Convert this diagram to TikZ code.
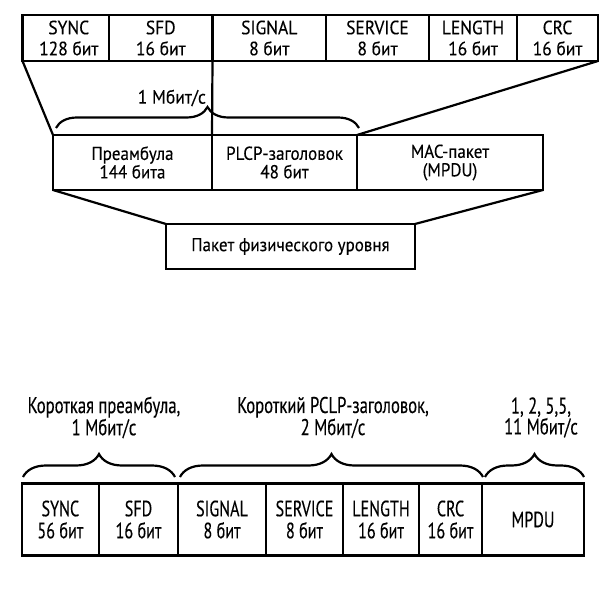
\documentclass[tikz,border=0pt]{standalone}
\usepackage{fontspec}
\setmainfont{PT Sans}[FakeBold=0.25]
\usetikzlibrary{decorations.pathreplacing,calc}
\newcommand{\tl}[1]{\scalebox{0.95}[1.3]{#1}}
\newcommand{\tm}[1]{\scalebox{1}[1.1]{#1}}
\begin{document}
\begin{tikzpicture}[x=1pt,y=-1pt,
  line width=2.2pt,
  cell/.style={draw, line width=2.2pt, inner sep=0pt, outer sep=0pt, align=center,
    font=\fontsize{17.5}{21}\selectfont},
  midcell/.style={cell, font=\fontsize{17}{18.5}\selectfont},
  lowcell/.style={cell, font=\fontsize{17}{22}\selectfont},
  lbl/.style={inner sep=0pt, align=center, font=\fontsize{17.5}{20}\selectfont},
  lowlbl/.style={inner sep=0pt, align=center, font=\fontsize{17.5}{19.5}\selectfont},
  curly/.style={decorate, line width=2.2pt, decoration={brace, amplitude=#1}}
]
\fill[white] (0,0) rectangle (614,594);
\useasboundingbox (0,0) rectangle (614,594);

% ---- top row ----
\node[cell, minimum width=86.5pt, minimum height=46pt] (sync) at (65.75,38) {\hspace*{6pt}\tm{SYNC}\\\hspace*{6pt}\tm{128 бит}};
\node[cell, minimum width=103.5pt, minimum height=46pt] (sfd) at (160.75,38) {\tm{SFD}\\\tm{16 бит}};
\node[cell, minimum width=113.5pt, minimum height=46pt] (signal) at (269.25,38) {\tm{SIGNAL}\\\tm{8 бит}};
\node[cell, minimum width=103pt, minimum height=46pt] (service) at (377.5,38) {\tm{SERVICE}\\\tm{8 бит}};
\node[cell, minimum width=88pt, minimum height=46pt] (length) at (473,38) {\tm{LENGTH}\\\tm{16 бит}};
\node[cell, minimum width=81pt, minimum height=46pt] (crc) at (557.5,38) {\tm{CRC}\\\tm{16 бит}};

% ---- middle row ----
\node[midcell, minimum width=159pt, minimum height=55pt] (pre) at (132.5,162.5) {\tm{Преамбула}\\\tm{144 бита}};
\node[midcell, minimum width=145pt, minimum height=55pt] (plcp) at (284.5,162.5) {\tm{PLCP-заголовок}\\\tm{48 бит}};
\node[midcell, minimum width=186pt, minimum height=55pt] (mac) at (450,162.5) {\tm{MAC-пакет}\\\tm{(MPDU)}};

% ---- physical packet ----
\node[midcell, minimum width=249pt, minimum height=45pt] (phys) at (290.5,246.5) {\tm{Пакет физического уровня}};

\node[lbl, anchor=east] (rate) at (207,98) {\tm{1 Мбит/с}};

% connectors
\draw (sync.south west) -- (pre.north west);
\draw (sfd.south east) -- (pre.north east);
\draw (crc.south east) -- (mac.north west);
\draw (pre.south west) -- (phys.north west);
\draw (mac.south east) -- (phys.north east);

\draw[curly=21pt] ($(pre.north west)+(3,-7)$) -- ($(plcp.north east)+(2,-7)$);

% ---- bottom figure ----
\node[lowcell, minimum width=77.3pt, minimum height=72pt] (sync2) at (60.35,519.5) {\tl{SYNC}\\\tl{56 бит}};
\node[lowcell, minimum width=79pt, minimum height=72pt] (sfd2) at (138.5,519.5) {\tl{SFD}\\\tl{16 бит}};
\node[lowcell, minimum width=88pt, minimum height=72pt] (signal2) at (222,519.5) {\tl{SIGNAL}\\\tl{8 бит}};
\node[lowcell, minimum width=77pt, minimum height=72pt] (service2) at (304.5,519.5) {\tl{SERVICE}\\\tl{8 бит}};
\node[lowcell, minimum width=76pt, minimum height=72pt] (length2) at (381,519.5) {\tl{LENGTH}\\\tl{16 бит}};
\node[lowcell, minimum width=63pt, minimum height=72pt] (crc2) at (450.5,519.5) {\tl{CRC}\\\tl{16 бит}};
\node[lowcell, minimum width=102pt, minimum height=72pt] (mpdu) at (533,519.5) {\tl{MPDU}};

\draw[curly=23pt] ($(sync2.north west)+(1.3,-6.5)$) -- ($(sfd2.north east)+(-3,-6.5)$);
\draw[curly=23pt] ($(signal2.north west)+(2,-6.5)$) -- ($(crc2.north east)+(1,-6.5)$);
\draw[curly=23pt] ($(mpdu.north west)+(3,-6.5)$) -- ($(mpdu.north east)+(0,-6.5)$);

\node[lowlbl] (l1) at (104,417.5) {\tl{Короткая преамбула,}\\\tl{1 Мбит/с}};
\node[lowlbl] (l2) at (333,417.5) {\tl{Короткий PCLP-заголовок,}\\\tl{2 Мбит/с}};
\node[lowlbl] (l3) at (541,417.5) {\tl{1, 2, 5,5,}\\\tl{11 Мбит/с}};
\end{tikzpicture}
\end{document}
